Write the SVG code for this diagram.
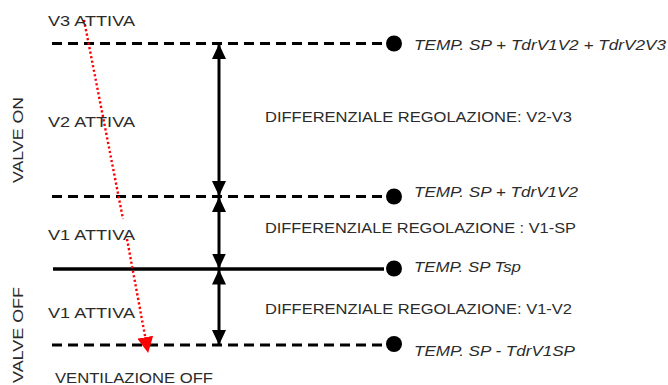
<svg xmlns="http://www.w3.org/2000/svg" width="668" height="385" viewBox="0 0 668 385">
<style>
.t{font-family:"Liberation Sans",Arial,sans-serif;font-size:15px;fill:#2b2b2b}
.i{font-family:"Liberation Sans",Arial,sans-serif;font-size:15px;font-style:italic;fill:#2b2b2b}
.dash{stroke:#000;stroke-width:3;stroke-dasharray:10 6;fill:none}
.solid{stroke:#000;stroke-width:3.5;fill:none}
.arr{stroke:#000;stroke-width:3;fill:none}
.red{stroke:#ff0000;stroke-width:2.4;stroke-dasharray:2.2 2.4;fill:none}
</style>
<defs>
<marker id="ah" viewBox="0 0 15 14" refX="15" refY="7" markerWidth="15" markerHeight="14" markerUnits="userSpaceOnUse" orient="auto-start-reverse">
<path d="M15 7 L0 0 L0 14 Z" fill="#000"/>
</marker>
<marker id="rh" viewBox="0 0 16 16" refX="15" refY="8" markerWidth="16" markerHeight="16" markerUnits="userSpaceOnUse" orient="auto">
<path d="M0 0 L16 8 L0 16 Z" fill="#ff0000"/>
</marker>
</defs>
<g id="levels">
<g id="level-v2v3">
<line class="dash" x1="52" y1="43.5" x2="384" y2="43.5"/>
<circle cx="394" cy="43.5" r="8" fill="#000"/>
<text class="i" x="414" y="50" textLength="252" lengthAdjust="spacingAndGlyphs">TEMP. SP + TdrV1V2 + TdrV2V3</text>
</g>
<g id="level-v1v2">
<line class="dash" x1="52" y1="196.5" x2="384" y2="196.5"/>
<circle cx="394" cy="196.5" r="8" fill="#000"/>
<text class="i" x="414" y="197" textLength="164" lengthAdjust="spacingAndGlyphs">TEMP. SP + TdrV1V2</text>
</g>
<g id="level-sp">
<line class="solid" x1="53" y1="269" x2="384" y2="269"/>
<circle cx="394" cy="268.5" r="8" fill="#000"/>
<text class="i" x="414" y="272" textLength="107" lengthAdjust="spacingAndGlyphs">TEMP. SP Tsp</text>
</g>
<g id="level-v1sp">
<line class="dash" x1="52" y1="345" x2="384" y2="345"/>
<circle cx="394" cy="344" r="8" fill="#000"/>
<text class="i" x="414" y="356" textLength="161" lengthAdjust="spacingAndGlyphs">TEMP. SP - TdrV1SP</text>
</g>
</g>
<g id="connectors">
<line class="arr" x1="219" y1="44" x2="219" y2="196" marker-start="url(#ah)" marker-end="url(#ah)"/>
<line class="arr" x1="219" y1="197" x2="219" y2="268.5" marker-start="url(#ah)" marker-end="url(#ah)"/>
<line class="arr" x1="219" y1="269.5" x2="219" y2="345" marker-start="url(#ah)" marker-end="url(#ah)"/>
<path class="red" d="M84 20 L123 219"/>
<path class="red" d="M127 239 L148 352" marker-end="url(#rh)"/>
</g>
<g id="labels">
<text class="t" x="48" y="26" textLength="87" lengthAdjust="spacingAndGlyphs">V3 ATTIVA</text>
<text class="t" x="48" y="127" textLength="87" lengthAdjust="spacingAndGlyphs">V2 ATTIVA</text>
<text class="t" x="48" y="240" textLength="87" lengthAdjust="spacingAndGlyphs">V1 ATTIVA</text>
<text class="t" x="48" y="318" textLength="87" lengthAdjust="spacingAndGlyphs">V1 ATTIVA</text>
<text class="t" x="55" y="383" textLength="158" lengthAdjust="spacingAndGlyphs">VENTILAZIONE OFF</text>
<text class="t" x="265" y="122" textLength="307" lengthAdjust="spacingAndGlyphs">DIFFERENZIALE REGOLAZIONE: V2-V3</text>
<text class="t" x="265" y="233" textLength="311" lengthAdjust="spacingAndGlyphs">DIFFERENZIALE REGOLAZIONE : V1-SP</text>
<text class="t" x="265" y="314" textLength="307" lengthAdjust="spacingAndGlyphs">DIFFERENZIALE REGOLAZIONE: V1-V2</text>
<text class="t" transform="translate(23 183) rotate(-90)" textLength="86" lengthAdjust="spacingAndGlyphs">VALVE ON</text>
<text class="t" transform="translate(23 383) rotate(-90)" textLength="96" lengthAdjust="spacingAndGlyphs">VALVE OFF</text>
</g>
</svg>
